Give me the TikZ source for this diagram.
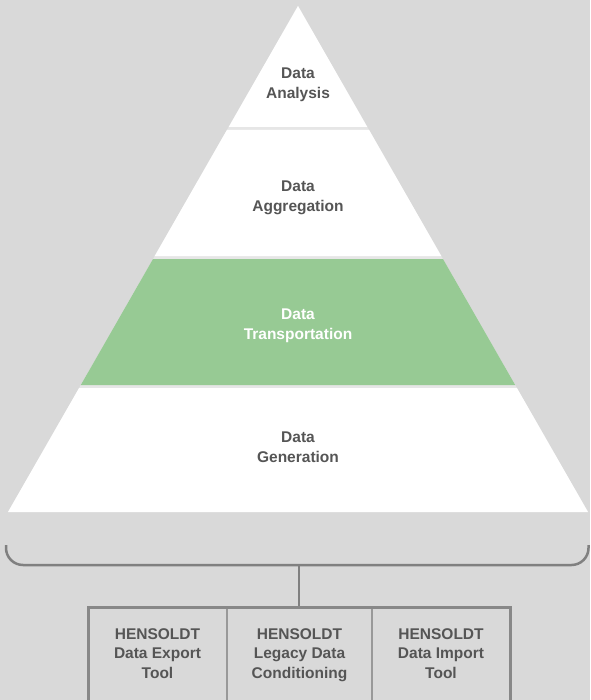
\documentclass[tikz,border=0pt]{standalone}
\usepackage{fontspec}
\setmainfont{Liberation Sans}
\definecolor{bg}{HTML}{D9D9D9}
\definecolor{gapc}{HTML}{E6E6E6}
\definecolor{layergreen}{HTML}{97CA94}
\definecolor{txt}{HTML}{555555}
\definecolor{brk}{HTML}{808080}
\definecolor{frame}{HTML}{888888}
\definecolor{divider}{HTML}{999999}
\tikzset{
  lbl/.style={align=center, font=\fontsize{15.5}{19.5}\selectfont\bfseries, text=txt, inner sep=0pt},
  lblw/.style={lbl, text=white},
  toollbl/.style={lbl, anchor=north},
  bracketline/.style={draw=brk, line width=2.5pt, rounded corners=17pt},
  stemline/.style={draw=brk, line width=2.5pt},
  outerframe/.style={draw=frame, line width=3pt},
  cellline/.style={draw=divider, line width=1.5pt},
}
\begin{document}
\begin{tikzpicture}[x=1pt,y=-1pt]
\useasboundingbox (0,0) rectangle (590,700);
\fill[bg] (0,0) rectangle (590,700);
% pyramid background (gap colour)
\fill[gapc] (298,6) -- (588,512) -- (8,512) -- cycle;
% layers
\fill[white] (298,6) -- (367.3,127) -- (228.7,127) -- cycle;
\fill[white] (226.9,130) -- (369.1,130) -- (441.3,256) -- (154.7,256) -- cycle;
\fill[layergreen] (153.0,259) -- (443.0,259) -- (515.2,385) -- (80.8,385) -- cycle;
\fill[white] (79.1,388) -- (516.9,388) -- (588,512) -- (8,512) -- cycle;
% layer labels
\node[lbl]  (analysis)  at (298,85)  {Data\\Analysis};
\node[lbl]  (aggreg)    at (298,198) {Data\\Aggregation};
\node[lblw] (transport) at (298,326) {Data\\Transportation};
\node[lbl]  (generat)   at (298,447) {Data\\Generation};
% bracket
\coordinate (bl) at (6,545);
\coordinate (br) at (588.5,545);
\coordinate (bm) at (299,565);
\coordinate (ft) at (299,607);
\draw[bracketline] (bl) -- (6,565) -- (588.5,565) -- (br);
\draw[stemline] (bm) -- (ft);
% tool boxes
\draw[cellline] (227,607) -- (227,710);
\draw[cellline] (372,607) -- (372,710);
\draw[outerframe] (88,710) -- (88,607) -- (510,607) -- (510,710);
\node[toollbl] (export) at (157.5,628) {HENSOLDT\\Data Export\\Tool};
\node[toollbl] (legacy) at (299.5,628) {HENSOLDT\\Legacy Data\\Conditioning};
\node[toollbl] (import) at (441,628) {HENSOLDT\\Data Import\\Tool};
\end{tikzpicture}
\end{document}
